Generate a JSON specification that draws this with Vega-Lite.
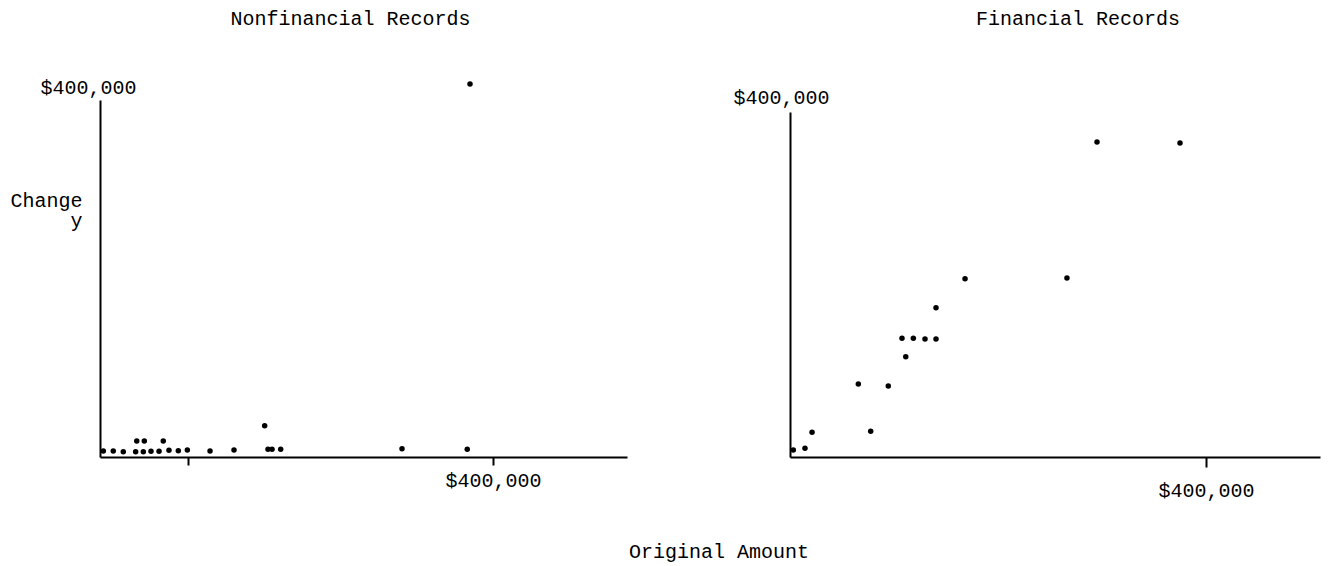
{
  "$schema": "https://vega.github.io/schema/vega-lite/v6.json",
  "padding": {"left": 9, "top": 9, "right": 5, "bottom": 5},
  "background": "white",
  "config": {
    "font": "Liberation Mono",
    "view": {"stroke": null},
    "axis": {"grid": false, "domainColor": "black", "domainWidth": 2, "tickColor": "black", "tickWidth": 2, "labelColor": "black", "labelFont": "Liberation Mono", "labelFontSize": 20, "labelFlush": false, "labelOverlap": false, "titleFont": "Liberation Mono", "titleFontSize": 20, "titleFontWeight": "normal", "titleColor": "black"},
    "title": {"font": "Liberation Mono", "fontSize": 20, "fontWeight": "normal", "color": "black"}
  },
  "title": {"text": "Original Amount", "orient": "bottom", "anchor": "middle", "offset": 42, "dx": 54},
  "datasets": {
    "nonfinancial": [
      {"original": 3400, "change": 6700},
      {"original": 13500, "change": 6700},
      {"original": 23700, "change": 5900},
      {"original": 36300, "change": 5900},
      {"original": 37400, "change": 17900},
      {"original": 44100, "change": 5900},
      {"original": 45100, "change": 17900},
      {"original": 51900, "change": 6400},
      {"original": 60100, "change": 6400},
      {"original": 64400, "change": 17900},
      {"original": 70200, "change": 7500},
      {"original": 79700, "change": 7100},
      {"original": 88900, "change": 7800},
      {"original": 112000, "change": 6700},
      {"original": 136400, "change": 7800},
      {"original": 167600, "change": 35100},
      {"original": 171000, "change": 8600},
      {"original": 175100, "change": 8600},
      {"original": 183900, "change": 8600},
      {"original": 307400, "change": 9300},
      {"original": 373800, "change": 8600},
      {"original": 376600, "change": 418000}
    ],
    "financial": [
      {"original": 3200, "change": 8100},
      {"original": 14400, "change": 10100},
      {"original": 21200, "change": 28600},
      {"original": 65700, "change": 84600},
      {"original": 77600, "change": 29800},
      {"original": 94500, "change": 82300},
      {"original": 107700, "change": 137600},
      {"original": 111300, "change": 116300},
      {"original": 118600, "change": 137600},
      {"original": 129800, "change": 136800},
      {"original": 140400, "change": 136800},
      {"original": 140400, "change": 173100},
      {"original": 168300, "change": 206600},
      {"original": 266300, "change": 207500},
      {"original": 295200, "change": 365200},
      {"original": 375000, "change": 364100}
    ]
  },
  "spacing": 105,
  "hconcat": [
    {
      "title": {"text": "Nonfinancial Records", "offset": 48, "dx": -13},
      "width": 527,
      "height": 357,
      "data": {"name": "nonfinancial"},
      "mark": {"type": "circle", "size": 30, "color": "black", "opacity": 1},
      "encoding": {
        "x": {"field": "original", "type": "quantitative", "scale": {"domain": [0, 536400], "nice": false},
              "axis": {"values": [90000, 400000], "labelExpr": "datum.value == 400000 ? '$400,000' : ''", "tickSize": 8, "labelPadding": 5, "title": null}},
        "y": {"field": "change", "type": "quantitative", "scale": {"domain": [0, 400000], "nice": false},
              "axis": {"values": [400000], "labelExpr": "'$400,000'", "ticks": false, "labelPadding": 12, "labelAlign": "center", "labelBaseline": "middle", "labelOffset": -13,
                       "title": ["Change", "y"], "titleAngle": 0, "titleAlign": "right", "titleBaseline": "top", "titleX": -18, "titleY": 90, "titleLineHeight": 20}}
      }
    },
    {
      "title": {"text": "Financial Records", "offset": 58, "dx": 23},
      "width": 530,
      "height": 357,
      "data": {"name": "financial"},
      "mark": {"type": "circle", "size": 30, "color": "black", "opacity": 1},
      "encoding": {
        "x": {"field": "original", "type": "quantitative", "scale": {"domain": [0, 509600], "nice": false},
              "axis": {"values": [400000], "labelExpr": "'$400,000'", "tickSize": 10, "labelPadding": 13, "title": null}},
        "y": {"field": "change", "type": "quantitative", "scale": {"domain": [0, 400000], "nice": false, "range": [357, 12]},
              "axis": {"values": [400000], "labelExpr": "'$400,000'", "ticks": false, "labelPadding": 9, "labelAlign": "center", "labelBaseline": "middle", "labelOffset": -15, "title": null}}
      }
    }
  ]
}
